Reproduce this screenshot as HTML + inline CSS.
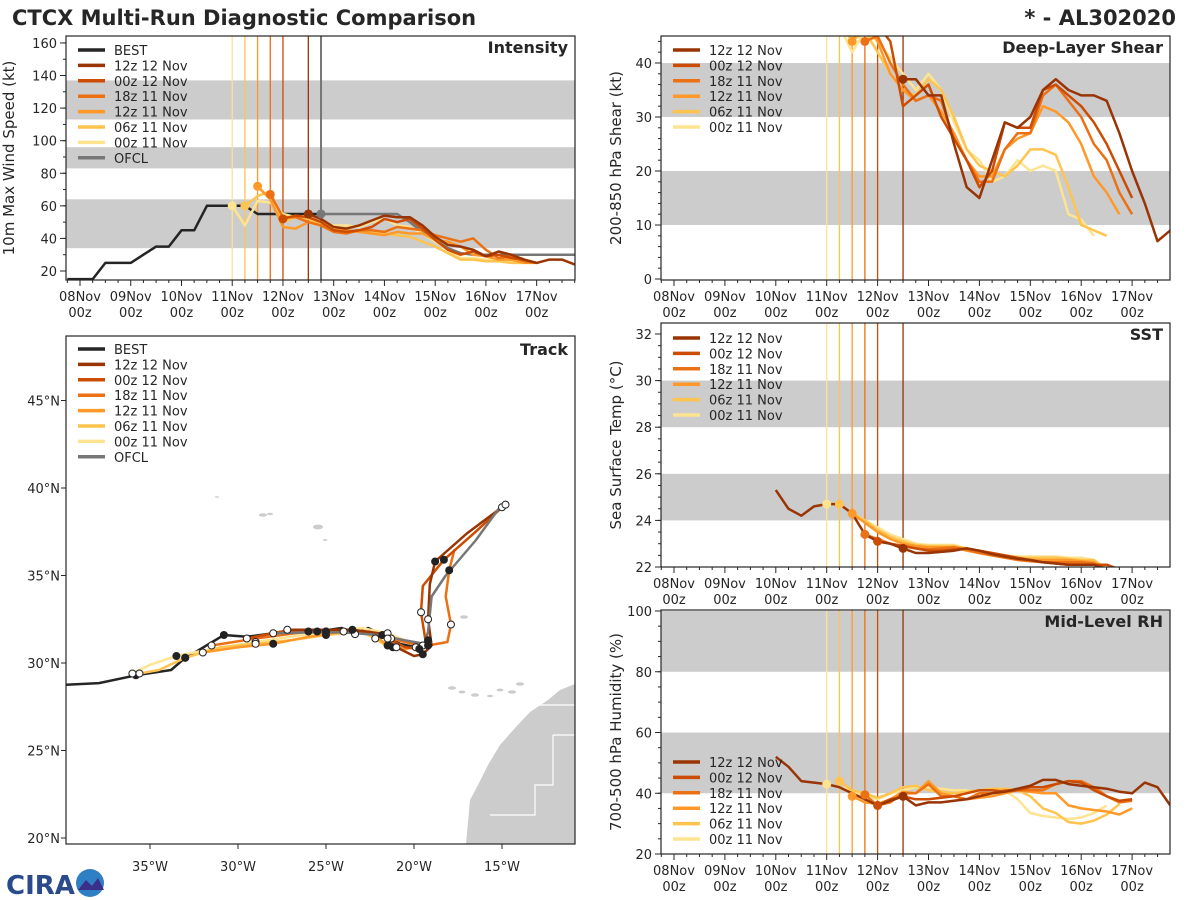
<!DOCTYPE html>
<html><head><meta charset="utf-8"><style>
html,body{margin:0;padding:0;background:#fff;width:1200px;height:900px;overflow:hidden}
svg text{font-family:"DejaVu Sans","Liberation Sans",sans-serif;fill:#262626}
</style></head><body>
<svg id="chart" width="1200" height="900" viewBox="0 0 1200 900" xmlns="http://www.w3.org/2000/svg">
<text x="12" y="25" font-size="21" font-weight="bold">CTCX Multi-Run Diagnostic Comparison</text>
<text x="1176" y="25" font-size="21" font-weight="bold" text-anchor="end">* - AL302020</text>
<g>
<text x="6" y="894" font-size="26" font-weight="bold" fill="#2a4a8c" style="fill:#2a4a8c">CIRA</text>
<circle cx="90" cy="883" r="14" fill="#2e7fc4"/>
<path d="M78 890 L86 880 L92 886 L98 878 L104 890 Z" fill="#3a2f8a"/>
</g>
<g id="layer"></g>
</svg>
<script>
// ---------- DATA ----------
const runNames = ["12z 12 Nov","00z 12 Nov","18z 11 Nov","12z 11 Nov","06z 11 Nov","00z 11 Nov"];
const runColors = ["#993404","#cc4c02","#ec7014","#fe9929","#fec44f","#fee391"];
const runInitDays = [4.5,4.0,3.75,3.5,3.25,3.0];
const ofclInitDay = 4.75;
const dayTickLabels = ["08Nov","09Nov","10Nov","11Nov","12Nov","13Nov","14Nov","15Nov","16Nov","17Nov"];

const bestIntStart = -0.25;
const bestInt = [15,15,15,25,25,25,30,35,35,45,45,60,60,60,60,55,55,55,55,55,55];
const ofclInt = [55,55,55,55,55,55,55,50,44,39,34,31,30,30,30,30,30,30,30,30,30];
const int12z12 = [55,52,47,46,48,51,54,53,53,48,41,36,35,33,29,32,30,27,25,27,27,24];
const int00z12 = [52,54,53,50,45,44,45,47,52,50,52,46,39,33,30,32,29,30,28,27,25];
const int18z11 = [67,53,53,50,48,44,43,45,45,44,47,46,45,42,40,38,40,33,28,29,26,25];
const int12z11 = [72,64,47,46,50,48,45,45,44,43,42,44,43,43,39,38,35,30,29,27,27,25,25];
const int06z11 = [60,66,69,50,53,52,48,47,44,45,44,43,42,41,38,35,31,27,27,26,26,25,25];
const int00z11 = [60,48,63,62,55,53,54,48,48,48,47,50,52,48,47,43,38,33,28,28,27,27,26,28];

const shr12z12 = [37,37,34,34,25,17,15,22,29,28,30,35,37,35,34,34,33,27,20,14,7,9];
const shr00z12 = [47,44,32,34,36,30,26,22,17,20,29,28,28,35,36,34,32,29,25,20,15];
const shr18z11 = [44,45,40,36,33,34,33,26,22,18,18,24,27,27,34,36,33,30,25,22,16,12];
const shr12z11 = [44,48,44,38,35,33,34,31,27,22,19,19,24,26,27,32,31,29,25,19,16,12];
const shr06z11 = [48,44,46,42,38,35,34,37,35,30,24,21,20,19,21,24,24,23,17,10,9,8];
const shr00z11 = [48,47,42,46,44,41,38,35,38,35,29,24,22,18,19,22,20,21,20,12,11,8];

const histStart12z12 = 2.0;
const sst12z12 = [25.3,24.5,24.2,24.6,24.7,24.7,24.3,23.4,23.1,23.0,22.8,22.6,22.6,22.65,22.7,22.8,22.7,22.55,22.45,22.35,22.3,22.2,22.15,22.1,22.1,22.1,21.9];
const sst00z12 = [23.1,23.0,22.9,22.8,22.7,22.7,22.75,22.8,22.7,22.6,22.5,22.4,22.3,22.2,22.15,22.1,22.1,22.1,22.1,21.9];
const sst18z11 = [23.4,23.2,23.0,22.9,22.8,22.75,22.8,22.85,22.75,22.6,22.5,22.4,22.3,22.25,22.2,22.2,22.2,22.2,22.15,21.9];
const sst12z11 = [24.3,23.9,23.5,23.2,23.0,22.9,22.85,22.85,22.85,22.7,22.6,22.5,22.4,22.35,22.3,22.3,22.3,22.3,22.25,22.2,21.9];
const sst06z11 = [24.7,24.3,24.0,23.6,23.3,23.1,22.95,22.9,22.9,22.9,22.8,22.65,22.55,22.45,22.4,22.4,22.4,22.4,22.35,22.3,22.3,21.9];
const sst00z11 = [24.7,24.7,24.3,24.0,23.7,23.4,23.2,23.0,22.95,22.95,22.95,22.8,22.7,22.6,22.5,22.45,22.45,22.45,22.45,22.4,22.4,22.3,21.9];

const rh12z12 = [52,48.7,44,43.5,43,42,40,38,36,37.5,39,36,37,37,37.5,38,39,40,40.5,41.5,42.5,44.4,44.4,43,42.5,42,41.5,40.5,40,43.5,42,36];
const rh00z12 = [36,38,39,38,38,38.5,39,40,41,41,40.5,41,42,42,43,44,43.5,41,39,37.5,38];
const rh18z11 = [39.5,36,37,40,40,43,39,39,38,40,40,41,41,41,41,43,44,44,42,39,37,37.5];
const rh12z11 = [39,37,36.5,38,40.5,40,44,40,39,38,38.5,39,40,41,40.5,40,40,36,35,34.5,34,33,35];
const rh06z11 = [44,41,40,38.5,40,42,42.5,41,40.5,40,40.5,41,41.5,41.5,41,39,35,33.5,30.5,30,31,33,36.5];
const rh00z11 = [43,42,41,39,38,40,41,42,42,41.5,41,41,40,40,41,38,33.5,32.5,32,31.5,32,33.5,36];

const bestLon = [-40,-37.9,-35.8,-33.8,-33.0,-32.3,-30.8,-29.5,-28.0,-27.2,-25.5,-24.1,-23.35,-22.6,-21.8,-20.8,-19.9,-19.3,-19.2];
const bestLat = [28.75,28.85,29.3,29.6,30.3,30.7,31.6,31.5,31.7,31.85,31.8,32.0,31.65,32.0,31.6,31.1,30.9,31.0,31.3];
const ofclLon = [-28.0,-26,-24,-22,-20.5,-19.4,-19.2,-19.0,-18.2,-16.5,-15.2];
const ofclLat = [31.7,31.75,31.75,31.6,31.3,31.1,31.8,33.8,35.0,37.0,38.8];
const trk12z12Lon = [-27.2,-25,-23.5,-22,-21,-20,-19.5,-19.0,-19.2,-19.1,-18.8,-17,-14.8];
const trk12z12Lat = [31.9,31.9,31.9,31.7,30.9,30.4,30.5,31.0,32.5,34.5,35.8,37.4,39.05];
const trk00z12Lon = [-29.5,-27.5,-25,-23,-21.5,-20.5,-19.7,-19.3,-19.6,-19.5,-18.3,-16.5,-15.0];
const trk00z12Lat = [31.4,31.8,31.8,31.8,31.4,30.9,30.8,31.0,32.9,34.4,35.9,37.5,38.9];
const trk18z11Lon = [-31.5,-29,-26,-23,-21.3,-20.1,-19.2,-18.1,-17.9,-18.2,-18.0,-17.7];
const trk18z11Lat = [31.0,31.4,31.8,31.8,31.4,31.1,31.0,31.2,32.2,33.8,35.3,36.5];
const trk12z11Lon = [-32,-30,-28,-26,-24,-22.5,-21.5,-20.5,-19.5];
const trk12z11Lat = [30.6,30.9,31.1,31.5,31.8,31.8,31.0,30.8,31.0];
const trk06z11Lon = [-35.6,-34.5,-33,-31,-29,-27,-25,-23,-22.2,-21.6,-21.2];
const trk06z11Lat = [29.4,29.6,30.3,30.9,31.1,31.3,31.6,31.8,31.4,31.0,30.9];
const trk00z11Lon = [-36,-35,-33.5,-31.5,-29,-27,-25,-23,-21.5,-20.5];
const trk00z11Lat = [29.4,29.9,30.4,30.8,31.2,31.5,31.8,32.0,31.7,31.3];

// ---------- DRAWING ----------
const NS="http://www.w3.org/2000/svg";
const layer=document.getElementById('layer');
function mk(tag,attrs,parent){const e=document.createElementNS(NS,tag);for(const k in attrs)e.setAttribute(k,attrs[k]);(parent||layer).appendChild(e);return e;}
function txt(x,y,s,attrs,parent){const e=mk('text',Object.assign({x:x,y:y,'font-size':13},attrs||{}),parent);e.textContent=s;return e;}

const panels={
 int:{x0:66,x1:575,y0:36,y1:280,dx0:80,dpd:50.74,v0:20,py0:271,ppv:1.629,title:"Intensity",ylab:"10m Max Wind Speed (kt)",ylx:14,major:[20,40,60,80,100,120,140,160],minorStep:10,minorMin:20,minorMax:160,bands:[[34,64],[83,96],[113,137]]},
 shr:{x0:661,x1:1170,y0:36,y1:280,dx0:674,dpd:50.9,v0:0,py0:279,ppv:5.4,title:"Deep-Layer Shear",ylab:"200-850 hPa Shear (kt)",ylx:621,major:[0,10,20,30,40],minorStep:2,minorMin:0,minorMax:44,bands:[[10,20],[30,40]]},
 sst:{x0:661,x1:1170,y0:323,y1:567,dx0:674,dpd:50.9,v0:22,py0:567,ppv:23.3,title:"SST",ylab:"Sea Surface Temp (°C)",ylx:621,major:[22,24,26,28,30,32],minorStep:0.5,minorMin:22,minorMax:32.5,bands:[[24,26],[28,30]]},
 rh:{x0:661,x1:1170,y0:610,y1:854,dx0:674,dpd:50.9,v0:20,py0:854,ppv:3.0375,title:"Mid-Level RH",ylab:"700-500 hPa Humidity (%)",ylx:621,major:[20,40,60,80,100],minorStep:5,minorMin:20,minorMax:100,bands:[[40,60],[80,100]]}
};
function X(p,d){return p.dx0+d*p.dpd;}
function Y(p,v){return p.py0-(v-p.v0)*p.ppv;}

function panelFrame(key){
 const p=panels[key];
 const g=mk('g',{});
 
 
 const cp=mk('clipPath',{id:'clip-'+key},g);
 mk('rect',{x:p.x0,y:p.y0,width:p.x1-p.x0,height:p.y1-p.y0},cp);
 const inner=mk('g',{'clip-path':'url(#clip-'+key+')'},g);
 p.bands.forEach((b,i)=>{const r=mk('rect',{x:p.x0,y:Y(p,b[1]),width:p.x1-p.x0,height:Y(p,b[0])-Y(p,b[1]),fill:'#cccccc'},inner);
  
  });
 for(let v=p.minorMin;v<=p.minorMax+1e-6;v+=p.minorStep){const y=Y(p,v);if(y<p.y0-0.5||y>p.y1+0.5)continue;mk('line',{x1:p.x0-3,x2:p.x0,y1:y,y2:y,stroke:'#262626','stroke-width':1},g);}
 p.major.forEach(v=>{const y=Y(p,v);mk('line',{x1:p.x0-6,x2:p.x0,y1:y,y2:y,stroke:'#262626','stroke-width':1},g);
  const t=txt(p.x0-9,y+5,String(v),{'text-anchor':'end'},g);
  
  });
 for(let d=-0.25;d<=9.75+1e-6;d+=0.25){const x=X(p,d);if(x<p.x0||x>p.x1)continue;const maj=Math.abs(d-Math.round(d))<1e-6;
  mk('line',{x1:x,x2:x,y1:p.y1,y2:p.y1+(maj?6:3),stroke:'#262626','stroke-width':1},g);}
 dayTickLabels.forEach((s,i)=>{const x=X(p,i);
  const t=txt(x,p.y1+21,s,{'text-anchor':'middle'},g);
  
  
  txt(x,p.y1+37,"00z",{'text-anchor':'middle'},g);});
 const yl=txt(0,0,p.ylab,{'font-size':15,'text-anchor':'middle',transform:'translate('+p.ylx+','+((p.y0+p.y1)/2)+') rotate(-90)'},g);
 
 
 return {g:g,inner:inner,p:p};
}
function series(inner,p,start,vals,color,name,w){
 const pts=vals.map((v,i)=>X(p,start+i*0.25).toFixed(1)+','+Y(p,v).toFixed(1)).join(' ');
 const l=mk('polyline',{points:pts,fill:'none',stroke:color,'stroke-width':w||2.5,'stroke-linejoin':'round'},inner);
 
 
 return l;
}
function vlines(inner,p,withOfcl){
 runInitDays.forEach((d,i)=>{const x=X(p,d);const l=mk('line',{x1:x,x2:x,y1:p.y0,y2:p.y1,stroke:runColors[i],'stroke-width':1.3},inner);
  
  });
 if(withOfcl){const x=X(p,ofclInitDay);const l=mk('line',{x1:x,x2:x,y1:p.y0,y2:p.y1,stroke:'#777777','stroke-width':2},inner);
  
  }
}
function marker(inner,p,d,v,color,name){const c=mk('circle',{cx:X(p,d),cy:Y(p,v),r:4.5,fill:color},inner);
 
 }
function legend(g,x,y,entries){
 entries.forEach((e,i)=>{const yy=y+i*15.4;
  mk('line',{x1:x,x2:x+27,y1:yy,y2:yy,stroke:e[1],'stroke-width':3.5},g);
  const t=txt(x+36,yy+5,e[0],{},g);
  
  });
}
function frame(g,p,key){mk('rect',{x:p.x0,y:p.y0,width:p.x1-p.x0,height:p.y1-p.y0,fill:'none',stroke:'#262626','stroke-width':1.2},g);
 const t=txt(p.x1-7,p.y0+17,p.title,{'font-size':16,'font-weight':'bold','text-anchor':'end'},g);
 
 }

const runEntries=runNames.map((n,i)=>[n,runColors[i]]);

(function(){const f=panelFrame('int');const p=f.p;vlines(f.inner,p,true);
 const arrs=[int12z12,int00z12,int18z11,int12z11,int06z11,int00z11];
 series(f.inner,p,bestIntStart,bestInt,'#252525','best-intensity-line');
 series(f.inner,p,ofclInitDay,ofclInt,'#777777','ofcl-intensity-line');
 for(let i=5;i>=0;i--){series(f.inner,p,runInitDays[i],arrs[i],runColors[i],'intensity-line-'+i);}
 for(let i=5;i>=0;i--){marker(f.inner,p,runInitDays[i],arrs[i][0],runColors[i],'intensity-init-marker-'+i);}
 marker(f.inner,p,ofclInitDay,ofclInt[0],'#777777','ofcl-init-marker');
 legend(f.g,78,50,[["BEST","#252525"]].concat(runEntries).concat([["OFCL","#777777"]]));
 frame(f.g,p,'int');})();

(function(){const f=panelFrame('shr');const p=f.p;vlines(f.inner,p,false);
 const arrs=[shr12z12,shr00z12,shr18z11,shr12z11,shr06z11,shr00z11];
 for(let i=5;i>=0;i--){series(f.inner,p,runInitDays[i],arrs[i],runColors[i],'shear-line-'+i);}
 for(let i=5;i>=0;i--){marker(f.inner,p,runInitDays[i],arrs[i][0],runColors[i],'shear-init-marker-'+i);}
 legend(f.g,673,50,runEntries);frame(f.g,p,'shr');})();

(function(){const f=panelFrame('sst');const p=f.p;vlines(f.inner,p,false);
 const arrs=[sst12z12,sst00z12,sst18z11,sst12z11,sst06z11,sst00z11];
 const starts=[histStart12z12].concat(runInitDays.slice(1));
 for(let i=5;i>=0;i--){series(f.inner,p,starts[i],arrs[i],runColors[i],'sst-line-'+i);}
 for(let i=5;i>=0;i--){const k=Math.round((runInitDays[i]-starts[i])/0.25);marker(f.inner,p,runInitDays[i],arrs[i][k],runColors[i],'sst-init-marker-'+i);}
 legend(f.g,673,338,runEntries);frame(f.g,p,'sst');})();

(function(){const f=panelFrame('rh');const p=f.p;vlines(f.inner,p,false);
 const arrs=[rh12z12,rh00z12,rh18z11,rh12z11,rh06z11,rh00z11];
 const starts=[histStart12z12].concat(runInitDays.slice(1));
 for(let i=5;i>=0;i--){series(f.inner,p,starts[i],arrs[i],runColors[i],'rh-line-'+i);}
 for(let i=5;i>=0;i--){const k=Math.round((runInitDays[i]-starts[i])/0.25);marker(f.inner,p,runInitDays[i],arrs[i][k],runColors[i],'rh-init-marker-'+i);}
 legend(f.g,673,762,runEntries);frame(f.g,p,'rh');})();

(function(){
 const T={x0:66,x1:575,y0:336,y1:844};
 const LX=lon=>150+(lon+35)*17.6, LY=lat=>663-(lat-30)*17.5;
 const g=mk('g',{});
 
 
 const cp=mk('clipPath',{id:'clip-trk'},g);mk('rect',{x:T.x0,y:T.y0,width:T.x1-T.x0,height:T.y1-T.y0},cp);
 const inner=mk('g',{'clip-path':'url(#clip-trk)'},g);
 const land=mk('path',{d:'M575 684 L560 690 L548 700 L530 712 L515 728 L500 745 L488 765 L478 785 L470 800 L466 844 L575 844 Z',fill:'#cccccc'},inner);
 
 
 mk('path',{d:'M535 705 L575 705 M553 735 L575 735 M553 735 L553 785 L535 785 L535 815 L490 815',fill:'none',stroke:'#fff','stroke-width':1.2},inner);
 [[452,688,3],[462,692,2.5],[475,695,3],[490,696,2],[500,690,2.5],[512,692,3],[520,684,3],[464,617,3],[263,515,3],[270,514,2],[318,527,4],[325,540,1.5],[217,497,1.2]].forEach(c=>{const e=mk('ellipse',{cx:c[0],cy:c[1],rx:c[2]+1,ry:c[2]*0.6,fill:'#cccccc'},inner);
  
  });
 const tracks=[[bestLon,bestLat,'#252525','best-track'],[trk00z11Lon,trk00z11Lat,runColors[5],'track-00z11'],[trk06z11Lon,trk06z11Lat,runColors[4],'track-06z11'],[trk12z11Lon,trk12z11Lat,runColors[3],'track-12z11'],[trk18z11Lon,trk18z11Lat,runColors[2],'track-18z11'],[trk00z12Lon,trk00z12Lat,runColors[1],'track-00z12'],[trk12z12Lon,trk12z12Lat,runColors[0],'track-12z12'],[ofclLon,ofclLat,'#777777','ofcl-track']];
 tracks.forEach(t=>{const pts=t[0].map((lo,i)=>LX(lo).toFixed(1)+','+LY(t[1][i]).toFixed(1)).join(' ');
  const l=mk('polyline',{points:pts,fill:'none',stroke:t[2],'stroke-width':2.5,'stroke-linejoin':'round'},inner);
  
  });
 tracks.forEach((t,ti)=>{if(ti===7)return;t[0].forEach((lo,i)=>{if(i%2===1||(ti===0&&i===0))return;
  const c=mk('circle',{cx:LX(lo),cy:LY(t[1][i]),r:3.5,fill:(i/2)%2?'#222':'#fff',stroke:'#222','stroke-width':1},inner);
  
  });});
 [-35,-30,-25,-20,-15].forEach(lo=>{const x=LX(lo);mk('line',{x1:x,x2:x,y1:T.y1,y2:T.y1+5,stroke:'#262626'},g);
  const t=txt(x,T.y1+27,(-lo)+"°W",{'text-anchor':'middle'},g);
  
  });
 [20,25,30,35,40,45].forEach(la=>{const y=LY(la);mk('line',{x1:T.x0-5,x2:T.x0,y1:y,y2:y,stroke:'#262626'},g);
  const t=txt(T.x0-6,y+5,la+"°N",{'text-anchor':'end'},g);
  
  });
 legend(g,78,349,[["BEST","#252525"]].concat(runEntries).concat([["OFCL","#777777"]]));
 mk('rect',{x:T.x0,y:T.y0,width:T.x1-T.x0,height:T.y1-T.y0,fill:'none',stroke:'#262626','stroke-width':1.2},g);
 const tt=txt(T.x1-7,T.y0+19,"Track",{'font-size':16,'font-weight':'bold','text-anchor':'end'},g);
 
 
})();
</script>
</body></html>
